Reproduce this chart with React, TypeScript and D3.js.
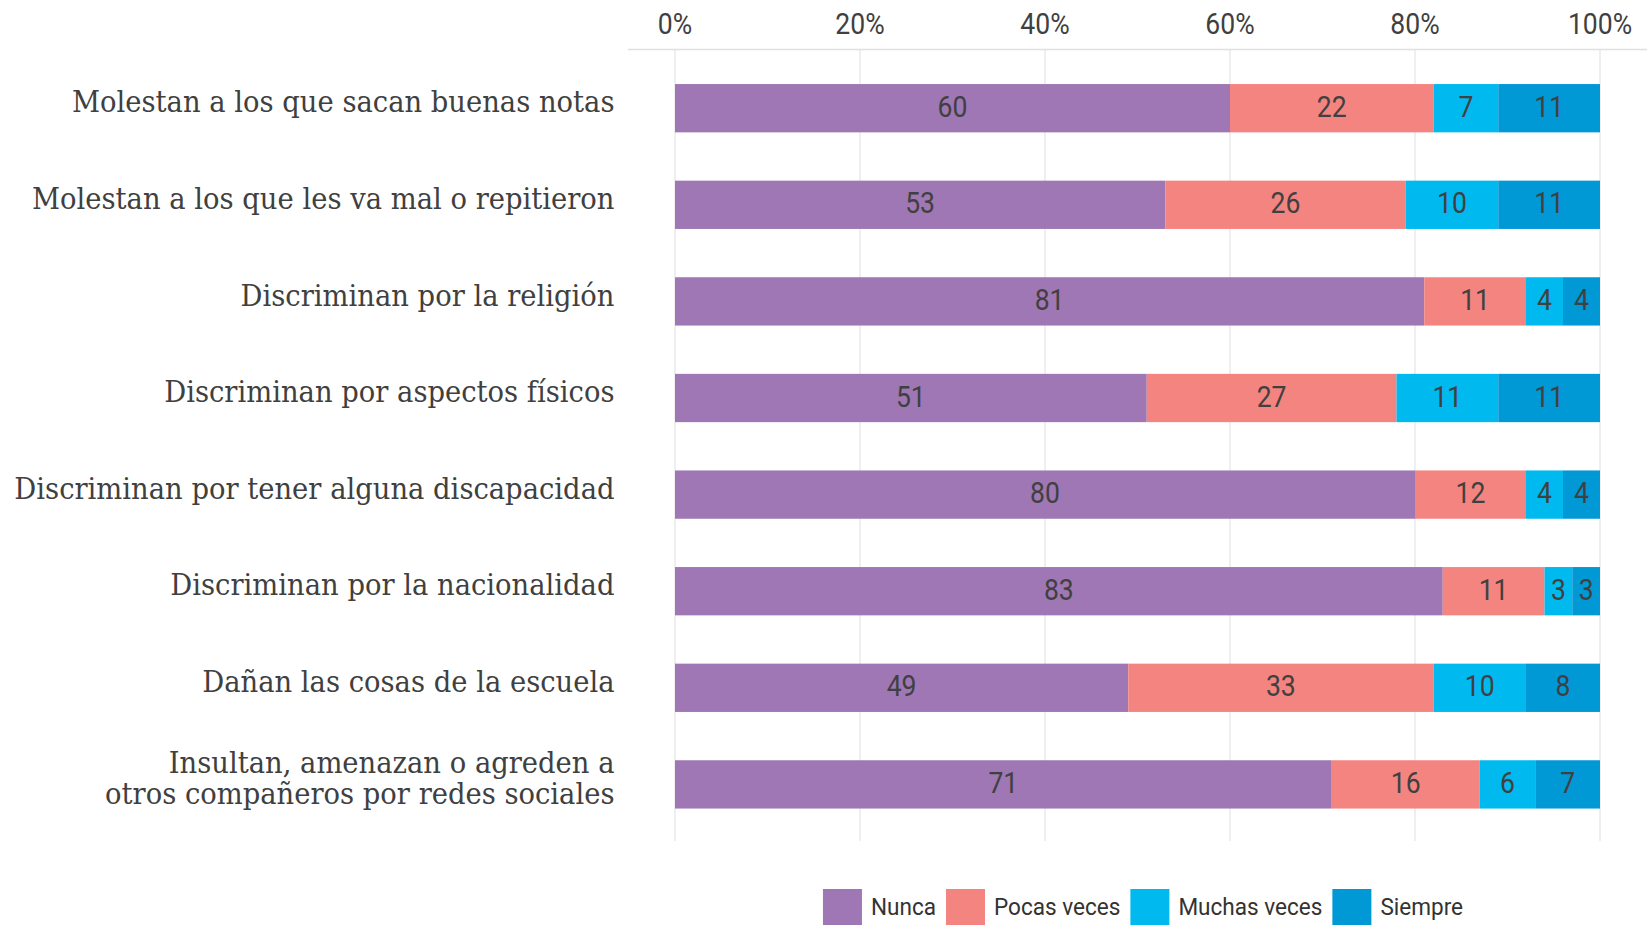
import React, { useEffect, useRef, useState } from "react";
import * as d3 from "d3";

const categories = [
  "Molestan a los que sacan buenas notas",
  "Molestan a los que les va mal o repitieron",
  "Discriminan por la religión",
  "Discriminan por aspectos físicos",
  "Discriminan por tener alguna discapacidad",
  "Discriminan por la nacionalidad",
  "Dañan las cosas de la escuela",
  "Insultan, amenazan o agreden a\notros compañeros por redes sociales",
];
const seriesNames = ["Nunca", "Pocas veces", "Muchas veces", "Siempre"];
const nunca = [60, 53, 81, 51, 80, 83, 49, 71];
const pocasVeces = [22, 26, 11, 27, 12, 11, 33, 16];
const muchasVeces = [7, 10, 4, 11, 4, 3, 10, 6];
const siempre = [11, 11, 4, 11, 4, 3, 8, 7];
const seriesColors = ["#9e77b4", "#f4847f", "#00b9ef", "#0098d5"];
const xTicks = [0, 20, 40, 60, 80, 100];

const W = 1647;
const H = 925;
const TEXT = "#404040";

export default function App() {
  const x = d3.scaleLinear().domain([0, 100]).range([675, 1600]);
  const y = d3
    .scaleBand<number>()
    .domain(categories.map((_, i) => i))
    .range([59.9, 832.7])
    .paddingInner(0.5)
    .paddingOuter(0.25);

  const rows = categories.map((c, i) => ({
    i,
    Nunca: nunca[i],
    "Pocas veces": pocasVeces[i],
    "Muchas veces": muchasVeces[i],
    Siempre: siempre[i],
  }));
  const stacked = d3.stack<any>().keys(seriesNames)(rows);

  const legendRefs = useRef<(SVGTextElement | null)[]>([]);
  const [legendW, setLegendW] = useState<number[]>([60, 115, 137, 80]);
  const legSx = 0.94;
  useEffect(() => {
    const ws = legendRefs.current.map((t) => (t ? t.getComputedTextLength() * legSx : 0));
    setLegendW(ws);
  }, []);

  const sw = 39;
  const gap1 = 9;
  const gap2 = 10;
  const total = legendW.reduce((a, w) => a + sw + gap1 + w, 0) + gap2 * (legendW.length - 1);
  const legCenter = 1143;
  let cur = legCenter - total / 2;
  const legPos = legendW.map((w) => {
    const p = cur;
    cur += sw + gap1 + w + gap2;
    return p;
  });

  const labelSx = 0.945;
  const numSx = 0.9;

  return (
    <svg
      width={W}
      height={H}
      style={{ position: "absolute", left: 0, top: 0, background: "#fff" }}
    >
      {/* gridlines */}
      {xTicks.map((t) => (
        <line key={"g" + t} x1={x(t)} x2={x(t)} y1={49} y2={841} stroke="#e6e6e6" strokeWidth={1.3} />
      ))}
      <line x1={628} x2={W} y1={49.5} y2={49.5} stroke="#e0e0e0" strokeWidth={1.5} />
      {/* tick labels */}
      {xTicks.map((t) => (
        <g key={"t" + t} transform={`translate(${x(t)},34.3) scale(${numSx},1)`}>
          <text textAnchor="middle" fontFamily="Roboto" fontSize={29.5} fill={TEXT}>
            {t}%
          </text>
        </g>
      ))}
      {/* bars */}
      {stacked.map((s, si) => (
        <g key={s.key} fill={seriesColors[si]}>
          {s.map((d, i) => (
            <rect
              key={i}
              x={x(d[0])}
              y={y(i)!}
              width={x(d[1]) - x(d[0])}
              height={y.bandwidth()}
            />
          ))}
        </g>
      ))}
      {/* value labels */}
      {stacked.map((s, si) =>
        s.map((d, i) => (
          <g
            key={s.key + "l" + i}
            transform={`translate(${(x(d[0]) + x(d[1])) / 2},${y(i)! + y.bandwidth() / 2 + 8.5}) scale(${numSx},1)`}
          >
            <text textAnchor="middle" fontFamily="Roboto" fontSize={29.5} fill={TEXT}>
              {d[1] - d[0]}
            </text>
          </g>
        ))
      )}
      {/* category labels */}
      {categories.map((c, i) => {
        const lines = c.split("\n");
        const cy = y(i)! + y.bandwidth() / 2;
        const lh = 31.5;
        return (
          <g key={"c" + i} transform={`translate(614.5,${cy + 4.1}) scale(${labelSx},1)`}>
            {lines.map((ln, li) => (
              <text
                key={li}
                y={(li - (lines.length - 1) / 2) * lh}
                textAnchor="end"
                fontFamily="'Roboto Slab', 'DejaVu Serif', serif"
                fontSize={29}
                fill={TEXT}
              >
                {ln}
              </text>
            ))}
          </g>
        );
      })}
      {/* legend */}
      {seriesNames.map((n, i) => (
        <g key={"leg" + n}>
          <rect x={legPos[i]} y={889} width={sw} height={sw} fill={seriesColors[i]} />
          <g transform={`translate(${legPos[i] + sw + gap1},915) scale(${legSx},1)`}>
            <text
              ref={(el) => {
                legendRefs.current[i] = el;
              }}
              fontFamily="Roboto"
              fontSize={24}
              fill="#333"
            >
              {n}
            </text>
          </g>
        </g>
      ))}
    </svg>
  );
}
